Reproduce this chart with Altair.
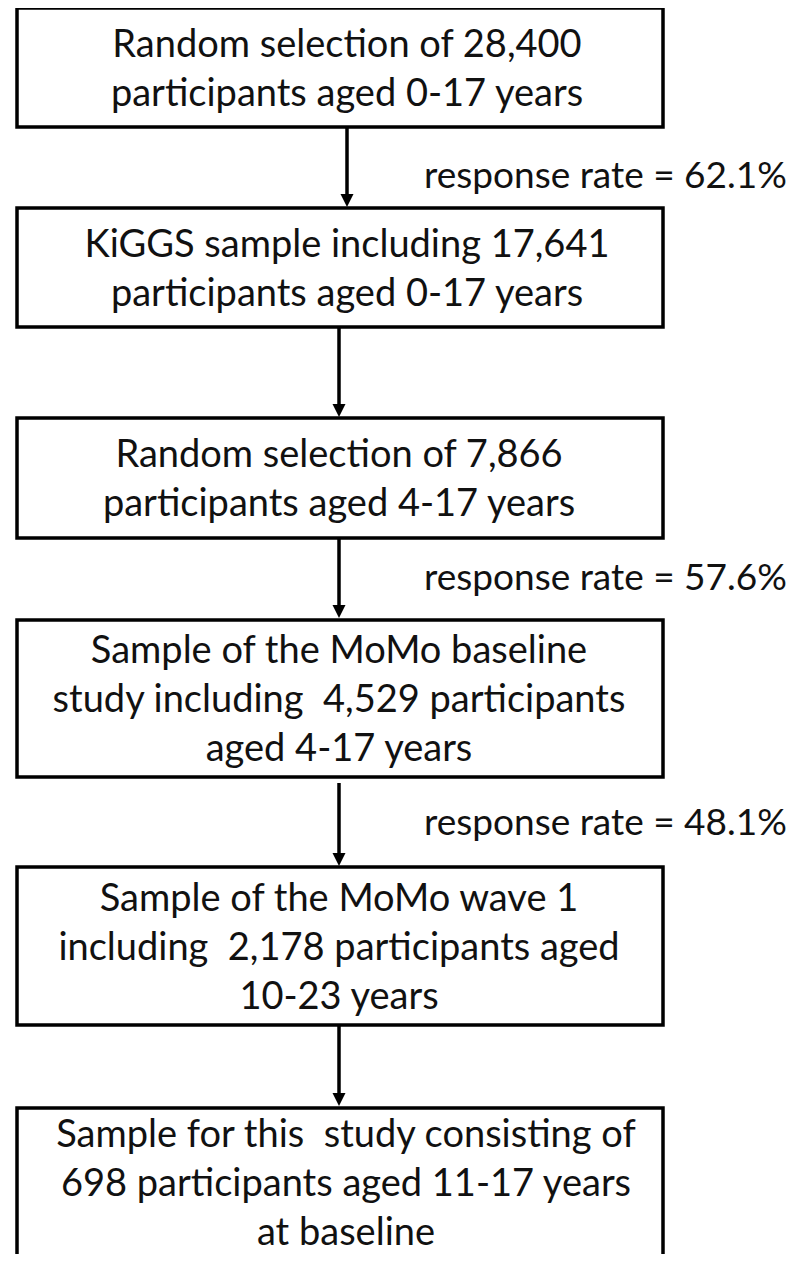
import altair as alt
import pandas as pd

# ---- content ----
box_lines = [
    ["Random selection of 28,400", "participants aged 0-17 years"],
    ["KiGGS sample including 17,641", "participants aged 0-17 years"],
    ["Random selection of 7,866", "participants aged 4-17 years"],
    ["Sample of the MoMo baseline", "study including\u00a0 4,529 participants", "aged 4-17 years"],
    ["Sample of the MoMo wave 1", "including\u00a0 2,178 participants aged", "10-23 years"],
    ["Sample for this\u00a0 study consisting of", "698 participants aged 11-17 years", "at baseline"],
]
rates = ["response rate = 62.1%", "response rate = 57.6%", "response rate = 48.1%"]

# ---- layout (image pixel coordinates) ----
box_top = [8, 208, 418, 620, 867, 1108]
box_bottom = [127, 327, 538, 777, 1025, 1256]
box_left = 17
box_right = 663
text_cx = [347, 347, 339, 339, 339, 346]
line_gap = 49
text_offset = 13.5

arrow_x = [347, 339, 339, 339, 339]
arrow_from = [127, 327, 538, 783, 1025]
arrow_to = [207, 417, 618, 866, 1106]
head_len = 13

rate_x = 424
rate_y = [188, 590, 835]

FONT = "Lato"
FS = 38
FS_RATE = 37

boxes = pd.DataFrame({
    "x1": [box_left] * 6, "x2": [box_right] * 6,
    "y1": box_top, "y2": [b + 20 if i == 5 else b for i, b in enumerate(box_bottom)],
})

rows = []
for i, lines in enumerate(box_lines):
    c = (box_top[i] + box_bottom[i]) / 2 + text_offset
    n = len(lines)
    for j, t in enumerate(lines):
        rows.append({"x": text_cx[i], "y": c + (j - (n - 1) / 2) * line_gap, "t": t})
texts = pd.DataFrame(rows)

shafts = pd.DataFrame({"x": arrow_x, "y1": arrow_from,
                       "y2": [t - head_len + 2 for t in arrow_to]})
heads = pd.DataFrame({"x": arrow_x, "y": [t - head_len / 2 for t in arrow_to]})
rate_df = pd.DataFrame({"x": [rate_x] * 3, "y": rate_y, "t": rates})

xs = alt.Scale(domain=[8, 800])
ys = alt.Scale(domain=[8, 1254], reverse=True)

rect = alt.Chart(boxes).mark_rect(filled=False, stroke="#000", strokeWidth=3.5).encode(
    x=alt.X("x1:Q", scale=xs, axis=None), x2="x2:Q",
    y=alt.Y("y1:Q", scale=ys, axis=None), y2="y2:Q",
)

txt = alt.Chart(texts).mark_text(font=FONT, fontSize=FS, color="#111",
                                 align="center", baseline="alphabetic").encode(
    x=alt.X("x:Q", scale=xs, axis=None),
    y=alt.Y("y:Q", scale=ys, axis=None),
    text="t:N",
)

shaft = alt.Chart(shafts).mark_rule(color="#000", strokeWidth=3.5).encode(
    x=alt.X("x:Q", scale=xs, axis=None),
    y=alt.Y("y1:Q", scale=ys, axis=None), y2="y2:Q",
)

head = alt.Chart(heads).mark_point(shape="M-1,-1L1,-1L0,1Z", filled=True, color="#000",
                                   opacity=1, size=head_len * head_len).encode(
    x=alt.X("x:Q", scale=xs, axis=None),
    y=alt.Y("y:Q", scale=ys, axis=None),
)

rate_txt = alt.Chart(rate_df).mark_text(font=FONT, fontSize=FS_RATE, color="#111",
                                        align="left", baseline="alphabetic").encode(
    x=alt.X("x:Q", scale=xs, axis=None),
    y=alt.Y("y:Q", scale=ys, axis=None),
    text="t:N",
)

chart = alt.layer(rect, shaft, head, txt, rate_txt).properties(
    width=792, height=1246, padding=0,
    autosize=alt.AutoSizeParams(type="none"),
).configure_view(stroke=None)

chart.save("out.html", embed_options={"renderer": "svg", "actions": False})
